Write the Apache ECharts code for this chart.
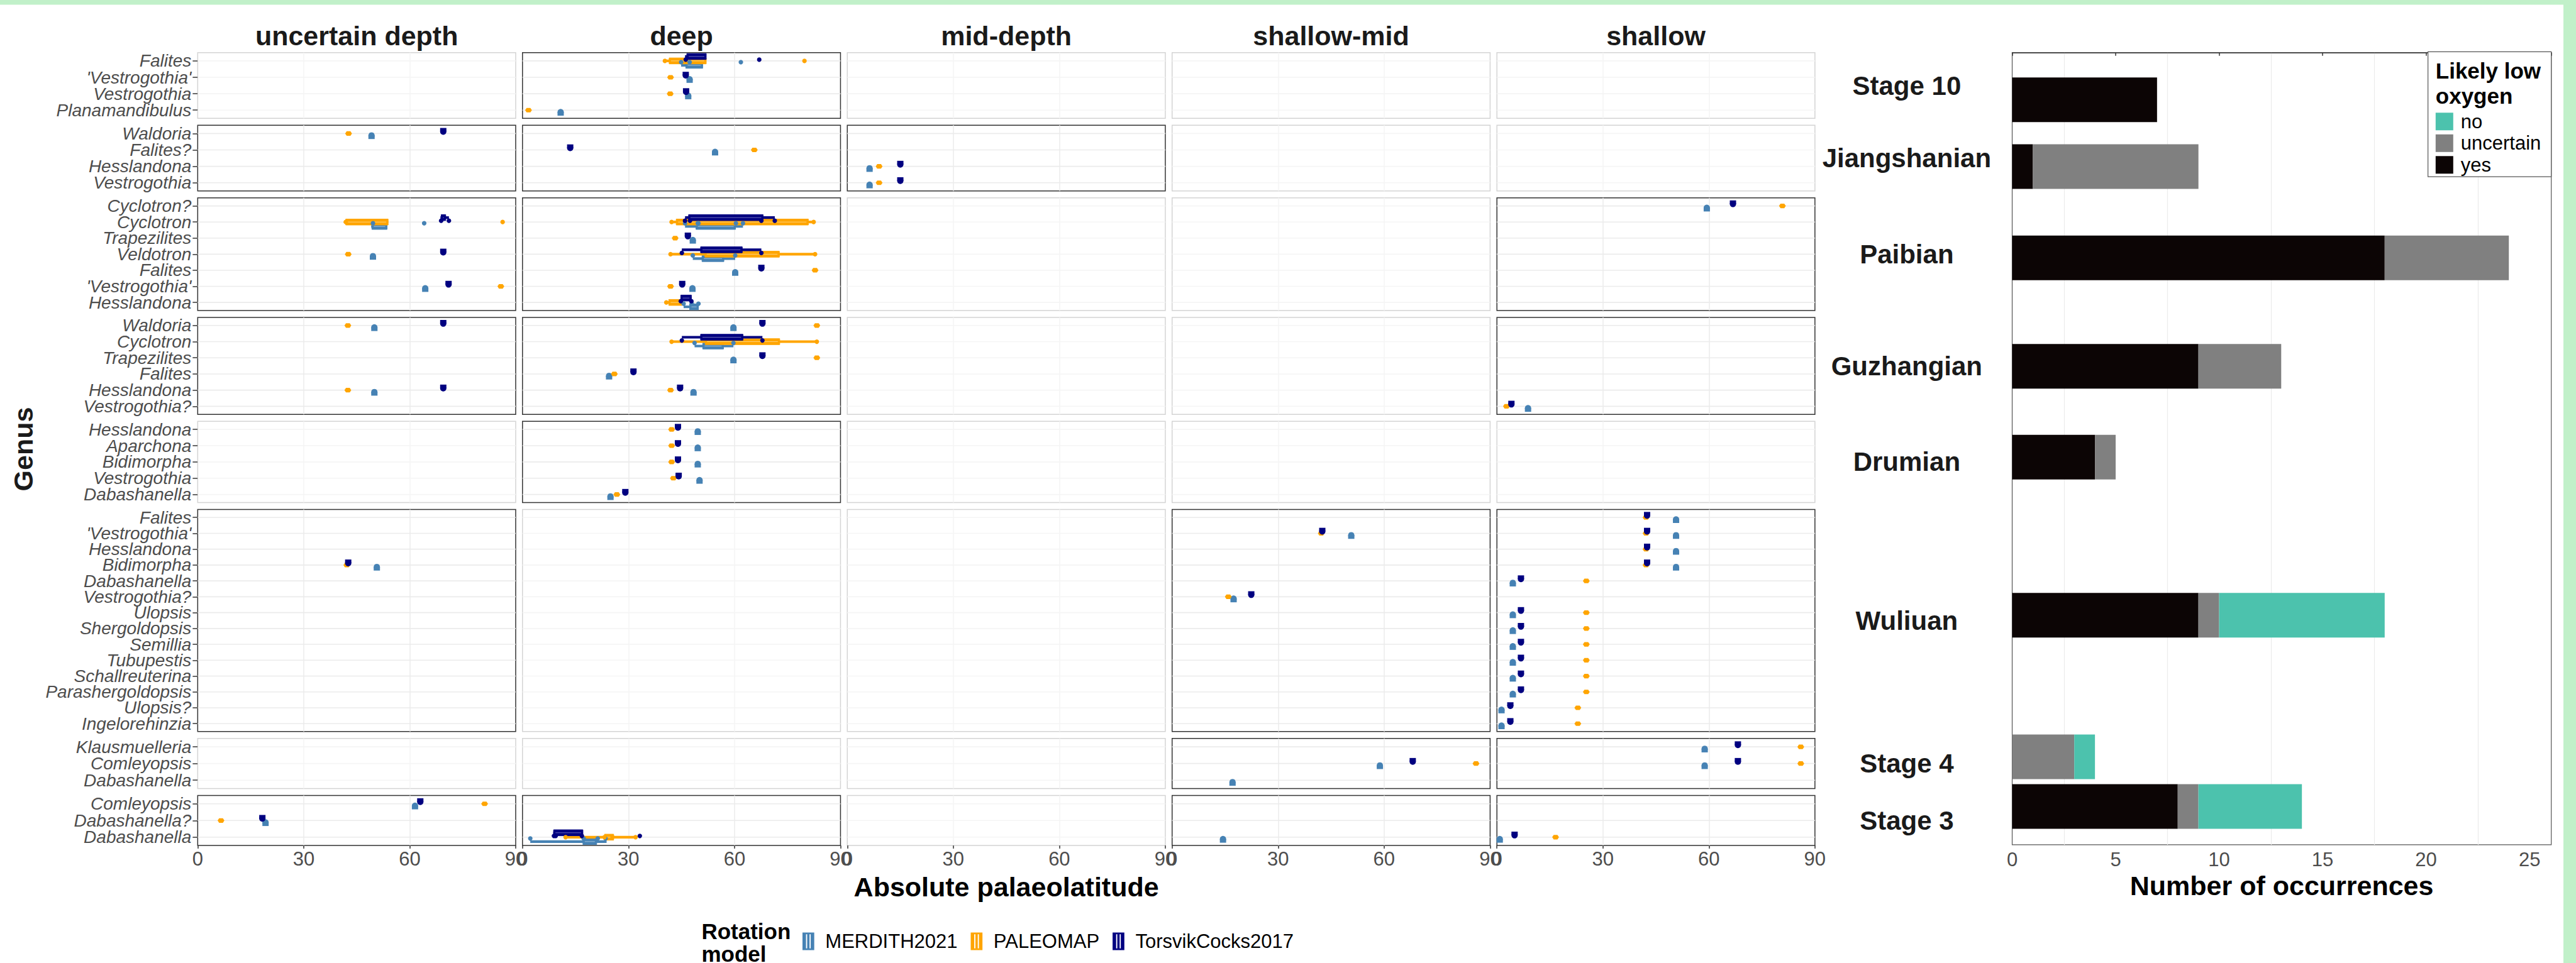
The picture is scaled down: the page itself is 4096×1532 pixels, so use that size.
<!DOCTYPE html>
<html><head><meta charset="utf-8">
<script src="https://cdn.jsdelivr.net/npm/echarts@6/dist/echarts.min.js"></script>
<style>html,body{margin:0;padding:0;background:#fff;overflow:hidden}#c{width:4096px;height:1532px}</style>
</head><body><div id="c"></div>
<script>
// ---------------- DATA ----------------
const stages = ['Stage 10','Jiangshanian','Paibian','Guzhangian','Drumian','Wuliuan','Stage 4','Stage 3'];
const depths = ['uncertain depth','deep','mid-depth','shallow-mid','shallow'];
const generaStage10 = ['Falites',"'Vestrogothia'",'Vestrogothia','Planamandibulus'];
const generaJiangshanian = ['Waldoria','Falites?','Hesslandona','Vestrogothia'];
const generaPaibian = ['Cyclotron?','Cyclotron','Trapezilites','Veldotron','Falites',"'Vestrogothia'",'Hesslandona'];
const generaGuzhangian = ['Waldoria','Cyclotron','Trapezilites','Falites','Hesslandona','Vestrogothia?'];
const generaDrumian = ['Hesslandona','Aparchona','Bidimorpha','Vestrogothia','Dabashanella'];
const generaWuliuan = ['Falites',"'Vestrogothia'",'Hesslandona','Bidimorpha','Dabashanella','Vestrogothia?','Ulopsis','Shergoldopsis','Semillia','Tubupestis','Schallreuterina','Parashergoldopsis','Ulopsis?','Ingelorehinzia'];
const generaStage4 = ['Klausmuelleria','Comleyopsis','Dabashanella'];
const generaStage3 = ['Comleyopsis','Dabashanella?','Dabashanella'];
const generaByStage = [generaStage10,generaJiangshanian,generaPaibian,generaGuzhangian,generaDrumian,generaWuliuan,generaStage4,generaStage3];

const models = ['MERDITH2021','PALEOMAP','TorsvikCocks2017'];
const modelColours = ['#4682B4','#FFA500','#000080'];
const modelTints = ['#9dbfdc','#ffd27f','#6a6ab8'];
const xTicks = [0,30,60,90];

// [stage, depth, genus, palaeolatitude | [lo,q1,median,q3,hi], extraPoints]
const merdith2021 = [
 ['Stage 10','deep','Falites',[44.9,46.2,48.5,51,51],[44.9,47.3,61.8]],
 ['Stage 10','deep',"'Vestrogothia'",47.3],
 ['Stage 10','deep','Vestrogothia',46.9],
 ['Stage 10','deep','Planamandibulus',10.8],
 ['Jiangshanian','uncertain depth','Waldoria',49.2],
 ['Jiangshanian','deep','Falites?',54.5],
 ['Jiangshanian','mid-depth','Hesslandona',6.3],
 ['Jiangshanian','mid-depth','Vestrogothia',6.3],
 ['Paibian','uncertain depth','Cyclotron',[49.1,49.3,51,53.6,53.6],[49.6,64.1]],
 ['Paibian','uncertain depth','Veldotron',49.6],
 ['Paibian','uncertain depth',"'Vestrogothia'",64.4],
 ['Paibian','deep','Cyclotron',[46,49.1,53,60.3,62.4],[46.0,49.6,49.8,60.4,62.4]],
 ['Paibian','deep','Trapezilites',48.2],
 ['Paibian','deep','Veldotron',[48.2,50.8,53,57.0,60.2],[48.2,60.2]],
 ['Paibian','deep','Falites',60.2],
 ['Paibian','deep',"'Vestrogothia'",48.1],
 ['Paibian','deep','Hesslandona',[45.6,47.3,48,49.8,49.8],[45.6,47.9,49.8]],
 ['Paibian','shallow','Cyclotron?',59.4],
 ['Guzhangian','uncertain depth','Waldoria',50.0],
 ['Guzhangian','uncertain depth','Hesslandona',50.0],
 ['Guzhangian','deep','Waldoria',59.7],
 ['Guzhangian','deep','Cyclotron',[48.7,51.0,54,56.9,59.7],[48.7,59.7]],
 ['Guzhangian','deep','Trapezilites',59.7],
 ['Guzhangian','deep','Falites',24.5],
 ['Guzhangian','deep','Hesslandona',48.4],
 ['Guzhangian','shallow','Vestrogothia?',8.8],
 ['Drumian','deep','Hesslandona',49.6],
 ['Drumian','deep','Aparchona',49.6],
 ['Drumian','deep','Bidimorpha',49.6],
 ['Drumian','deep','Vestrogothia',50.1],
 ['Drumian','deep','Dabashanella',24.9],
 ['Wuliuan','uncertain depth','Bidimorpha',50.7],
 ['Wuliuan','shallow-mid',"'Vestrogothia'",50.7],
 ['Wuliuan','shallow-mid','Vestrogothia?',17.4],
 ['Wuliuan','shallow','Falites',50.7],
 ['Wuliuan','shallow',"'Vestrogothia'",50.7],
 ['Wuliuan','shallow','Hesslandona',50.7],
 ['Wuliuan','shallow','Bidimorpha',50.7],
 ['Wuliuan','shallow','Dabashanella',4.5],
 ['Wuliuan','shallow','Ulopsis',4.5],
 ['Wuliuan','shallow','Shergoldopsis',4.5],
 ['Wuliuan','shallow','Semillia',4.5],
 ['Wuliuan','shallow','Tubupestis',4.5],
 ['Wuliuan','shallow','Schallreuterina',4.5],
 ['Wuliuan','shallow','Parashergoldopsis',4.5],
 ['Wuliuan','shallow','Ulopsis?',1.3],
 ['Wuliuan','shallow','Ingelorehinzia',1.3],
 ['Stage 4','shallow-mid','Comleyopsis',58.8],
 ['Stage 4','shallow-mid','Dabashanella',17.1],
 ['Stage 4','shallow','Klausmuelleria',58.8],
 ['Stage 4','shallow','Comleyopsis',58.8],
 ['Stage 3','uncertain depth','Comleyopsis',61.5],
 ['Stage 3','uncertain depth','Dabashanella?',19.2],
 ['Stage 3','deep','Dabashanella',[2.2,17.1,19,21,23.8],[2.2,17.3,21.3,23.5]],
 ['Stage 3','shallow-mid','Dabashanella',14.4],
 ['Stage 3','shallow','Dabashanella',0.8]
];
const paleomap = [
 ['Stage 10','deep','Falites',[40.3,41.5,46,52,52],[40.3,79.8]],
 ['Stage 10','deep',"'Vestrogothia'",41.9],
 ['Stage 10','deep','Vestrogothia',41.8],
 ['Stage 10','deep','Planamandibulus',1.7],
 ['Jiangshanian','uncertain depth','Waldoria',42.7],
 ['Jiangshanian','deep','Falites?',65.6],
 ['Jiangshanian','mid-depth','Hesslandona',9.0],
 ['Jiangshanian','mid-depth','Vestrogothia',9.0],
 ['Paibian','uncertain depth','Cyclotron',[41.9,41.9,47,53.9,53.9],[41.9,86.3]],
 ['Paibian','uncertain depth','Veldotron',42.6],
 ['Paibian','uncertain depth',"'Vestrogothia'",85.8],
 ['Paibian','deep','Cyclotron',[42.2,43.5,55,80.9,82.4],[42.2,82.4]],
 ['Paibian','deep','Trapezilites',43.2],
 ['Paibian','deep','Veldotron',[41.9,51.6,57,72.7,82.8],[41.9,82.8]],
 ['Paibian','deep','Falites',82.8],
 ['Paibian','deep',"'Vestrogothia'",41.9],
 ['Paibian','deep','Hesslandona',[40.7,41.4,43,45.2,45.2],[40.7]],
 ['Paibian','shallow','Cyclotron?',80.8],
 ['Guzhangian','uncertain depth','Waldoria',42.5],
 ['Guzhangian','uncertain depth','Hesslandona',42.5],
 ['Guzhangian','deep','Waldoria',83.3],
 ['Guzhangian','deep','Cyclotron',[42.2,51.7,57,72.8,83.3],[42.2,83.3]],
 ['Guzhangian','deep','Trapezilites',83.3],
 ['Guzhangian','deep','Falites',26.0],
 ['Guzhangian','deep','Hesslandona',41.9],
 ['Guzhangian','shallow','Vestrogothia?',2.7],
 ['Drumian','deep','Hesslandona',42.2],
 ['Drumian','deep','Aparchona',42.2],
 ['Drumian','deep','Bidimorpha',42.2],
 ['Drumian','deep','Vestrogothia',42.7],
 ['Drumian','deep','Dabashanella',26.7],
 ['Wuliuan','uncertain depth','Bidimorpha',42.2],
 ['Wuliuan','shallow-mid',"'Vestrogothia'",42.2],
 ['Wuliuan','shallow-mid','Vestrogothia?',15.9],
 ['Wuliuan','shallow','Falites',42.2],
 ['Wuliuan','shallow',"'Vestrogothia'",42.2],
 ['Wuliuan','shallow','Hesslandona',42.2],
 ['Wuliuan','shallow','Bidimorpha',42.2],
 ['Wuliuan','shallow','Dabashanella',25.3],
 ['Wuliuan','shallow','Ulopsis',25.3],
 ['Wuliuan','shallow','Shergoldopsis',25.3],
 ['Wuliuan','shallow','Semillia',25.3],
 ['Wuliuan','shallow','Tubupestis',25.3],
 ['Wuliuan','shallow','Schallreuterina',25.3],
 ['Wuliuan','shallow','Parashergoldopsis',25.3],
 ['Wuliuan','shallow','Ulopsis?',22.9],
 ['Wuliuan','shallow','Ingelorehinzia',22.9],
 ['Stage 4','shallow-mid','Comleyopsis',86.0],
 ['Stage 4','shallow','Klausmuelleria',86.0],
 ['Stage 4','shallow','Comleyopsis',86.0],
 ['Stage 3','uncertain depth','Comleyopsis',81.2],
 ['Stage 3','uncertain depth','Dabashanella?',6.6],
 ['Stage 3','deep','Dabashanella',[12.2,23.2,24.5,25.8,32.0],[12.2,23.2,25.5,32.0]],
 ['Stage 3','shallow','Dabashanella',16.6]
];
const torsvikCocks2017 = [
 ['Stage 10','deep','Falites',[46,46.5,49,52,52],[46.2,67.0]],
 ['Stage 10','deep',"'Vestrogothia'",46.2],
 ['Stage 10','deep','Vestrogothia',46.3],
 ['Jiangshanian','uncertain depth','Waldoria',69.5],
 ['Jiangshanian','deep','Falites?',13.5],
 ['Jiangshanian','mid-depth','Hesslandona',15.0],
 ['Jiangshanian','mid-depth','Vestrogothia',15.0],
 ['Paibian','uncertain depth','Cyclotron',[68.7,68.9,69.5,70.2,71.1],[68.9,71.1]],
 ['Paibian','uncertain depth','Veldotron',69.5],
 ['Paibian','uncertain depth',"'Vestrogothia'",71.0],
 ['Paibian','deep','Cyclotron',[46,47,55,68.1,71.4],[46.0,47.4,67.6,71.4]],
 ['Paibian','deep','Trapezilites',46.8],
 ['Paibian','deep','Veldotron',[45.1,50.4,56,62.2,67.6],[45.1,67.6]],
 ['Paibian','deep','Falites',67.6],
 ['Paibian','deep',"'Vestrogothia'",45.2],
 ['Paibian','deep','Hesslandona',[44.8,44.8,46,47.8,47.8],[44.8,47.8]],
 ['Paibian','shallow','Cyclotron?',66.8],
 ['Guzhangian','uncertain depth','Waldoria',69.5],
 ['Guzhangian','uncertain depth','Hesslandona',69.5],
 ['Guzhangian','deep','Waldoria',67.9],
 ['Guzhangian','deep','Cyclotron',[45.1,50.4,56,62.4,67.9],[45.1,67.9]],
 ['Guzhangian','deep','Trapezilites',67.9],
 ['Guzhangian','deep','Falites',31.4],
 ['Guzhangian','deep','Hesslandona',44.6],
 ['Guzhangian','shallow','Vestrogothia?',4.1],
 ['Drumian','deep','Hesslandona',44.0],
 ['Drumian','deep','Aparchona',44.0],
 ['Drumian','deep','Bidimorpha',44.0],
 ['Drumian','deep','Vestrogothia',44.2],
 ['Drumian','deep','Dabashanella',29.1],
 ['Wuliuan','uncertain depth','Bidimorpha',42.6],
 ['Wuliuan','shallow-mid',"'Vestrogothia'",42.5],
 ['Wuliuan','shallow-mid','Vestrogothia?',22.4],
 ['Wuliuan','shallow','Falites',42.5],
 ['Wuliuan','shallow',"'Vestrogothia'",42.5],
 ['Wuliuan','shallow','Hesslandona',42.5],
 ['Wuliuan','shallow','Bidimorpha',42.5],
 ['Wuliuan','shallow','Dabashanella',6.8],
 ['Wuliuan','shallow','Ulopsis',6.8],
 ['Wuliuan','shallow','Shergoldopsis',6.8],
 ['Wuliuan','shallow','Semillia',6.8],
 ['Wuliuan','shallow','Tubupestis',6.8],
 ['Wuliuan','shallow','Schallreuterina',6.8],
 ['Wuliuan','shallow','Parashergoldopsis',6.8],
 ['Wuliuan','shallow','Ulopsis?',3.8],
 ['Wuliuan','shallow','Ingelorehinzia',3.8],
 ['Stage 4','shallow-mid','Comleyopsis',68.1],
 ['Stage 4','shallow','Klausmuelleria',68.2],
 ['Stage 4','shallow','Comleyopsis',68.2],
 ['Stage 3','uncertain depth','Comleyopsis',63.0],
 ['Stage 3','uncertain depth','Dabashanella?',18.3],
 ['Stage 3','deep','Dabashanella',[8.7,8.8,12,17.1,17.1],[8.9,9.4,16.8,33.2]],
 ['Stage 3','shallow','Dabashanella',5.0]
];
const modelData = [merdith2021, paleomap, torsvikCocks2017];

// Bar chart: occurrences per stage by likely low oxygen
const oxygenClasses = ['no','uncertain','yes'];
const oxygenColours = {no:'#4cc2ad', uncertain:'#808080', yes:'#0c0505'};
const countYes = [7,1,18,9,4,9,0,8];
const countUncertain = [0,8,6,4,1,1,3,1];
const countNo = [0,0,0,0,0,8,1,5];
const barTrackPos = [5.95,14.38,25.91,39.59,51.07,71.03,88.89,95.17];
const barTicks = [0,5,10,15,20,25];

// ---------------- LAYOUT ----------------
const S = 0.676;
const FONT = "'Liberation Sans', Arial, Helvetica, sans-serif";
const L = {colLeft:465*S, colPitch:764*S, colW:748*S, top:124*S, cat:36.8*S, gap:16.3*S};
const BOX_OFF = 7, BOX_H = 9.5, WHISK = 4.2, PT_OFF = 2, PT_R = 3.6;
const dirs = [1, 0, -1];

const option = {animation:false, backgroundColor:'#ffffff', grid:[], xAxis:[], yAxis:[], series:[], legend:[], graphic:[]};
const rowCentres = [];

function glyph(x, gy, dir, col) {
  if (dir === 0) {
    return [{type:'polygon', shape:{points:[[x-5.4,gy],[x-3,gy-3.6],[x+3,gy-3.6],[x+5.4,gy],[x+3,gy+3.6],[x-3,gy+3.6]]}, style:{fill:col}}];
  }
  const yA = gy + dir*8.8, yB = gy + dir*3;
  return [
    {type:'rect', shape:{x:x-5, y:Math.min(yA,yB), width:10, height:Math.abs(yA-yB)}, style:{fill:col}},
    {type:'circle', shape:{cx:x, cy:yB, r:5}, style:{fill:col}}
  ];
}

function makeSeries(gi, mi, list, layer) {
  const col = modelColours[mi], dir = dirs[mi], tint = modelTints[mi];
  return {
    type:'custom', name:models[mi], xAxisIndex:gi, yAxisIndex:gi, z: layer==='box'?3:4,
    itemStyle:{color:col}, silent:true,
    data:list.map(e => [Array.isArray(e[3]) ? e[3][2] : e[3], e[5]]),
    renderItem:(p, api) => {
      const e = list[p.dataIndex];
      const g = api.value(1);
      const gy = api.coord([0, g])[1];
      const X = v => api.coord([v, g])[0];
      if (layer === 'box') {
        const [lo,q1,md,q3,hi] = e[3];
        const yc = gy + dir*BOX_OFF;
        return {type:'group', children:[
          {type:'line', shape:{x1:X(lo), y1:yc, x2:X(hi), y2:yc}, style:{stroke:col, lineWidth:WHISK}},
          {type:'rect', shape:{x:X(q1), y:yc-BOX_H/2, width:Math.max(X(q3)-X(q1),2), height:BOX_H}, style:{fill:col, stroke:col, lineWidth:1}},
          {type:'line', shape:{x1:X(q1)+3, y1:yc, x2:Math.max(X(q3)-3, X(q1)+3), y2:yc}, style:{stroke:tint, lineWidth:1}}
        ]};
      }
      if (Array.isArray(e[3])) {
        return {type:'group', children:(e[4]||[]).map(v => ({type:'circle', shape:{cx:X(v), cy:gy+dir*PT_OFF, r:PT_R}, style:{fill:col}}))};
      }
      return {type:'group', children:glyph(X(e[3]), gy, dir, col)};
    }
  };
}

let yCur = L.top;
generaByStage.forEach((gen, r) => {
  const h = (gen.length + 0.2) * L.cat;
  rowCentres.push(yCur + h/2);
  depths.forEach((dp, c) => {
    const gi = option.grid.length;
    const perModel = modelData.map(list => list.filter(e => e[0]===stages[r] && e[1]===dp)
      .map(e => { const a = e.slice(); a[5] = gen.indexOf(e[2]); if (a.length < 5) a[4] = null; return a; }));
    const has = perModel.some(a => a.length);
    option.grid.push({left:L.colLeft + c*L.colPitch, top:yCur, width:L.colW, height:h, show:true,
      borderColor: has ? '#333333' : '#d4d4d4', borderWidth:1.5, backgroundColor:'#ffffff'});
    const bottom = r === generaByStage.length-1;
    option.xAxis.push({gridIndex:gi, type:'value', min:xTicks[0], max:xTicks[xTicks.length-1], interval:30,
      axisLine:{show:false},
      axisTick:{show:bottom, length:5, lineStyle:{color:'#333333', width:1.5}},
      axisLabel:{show:bottom, fontSize:31, color:'#4d4d4d', margin:6, fontFamily:FONT},
      splitLine:{show:true, showMinLine:false, showMaxLine:false, lineStyle:{color: has ? '#ebebeb' : '#f5f5f5', width:1.5}}});
    option.yAxis.push({gridIndex:gi, type:'category', data:gen, inverse:true,
      axisLine:{show:false},
      axisTick:{show:c===0, alignWithLabel:true, length:8, lineStyle:{color:'#333333', width:1.5}},
      axisLabel:{show:c===0, fontSize:28, fontStyle:'italic', color:'#4d4d4d', margin:10, fontFamily:FONT, interval:0},
      splitLine:{show:false}});
    // horizontal category grid lines
    option.series.push({type:'custom', xAxisIndex:gi, yAxisIndex:gi, silent:true, z:1,
      data:gen.map((g,i) => [0,i]),
      renderItem:(p, api) => {
        const cs = p.coordSys, y = api.coord([0, api.value(1)])[1];
        return {type:'line', shape:{x1:cs.x, y1:y, x2:cs.x+cs.width, y2:y}, style:{stroke: has ? '#ebebeb' : '#f5f5f5', lineWidth:1.6}};
      }});
    perModel.forEach((list, mi) => {
      const boxes = list.filter(e => Array.isArray(e[3]));
      if (boxes.length) option.series.push(makeSeries(gi, mi, boxes, 'box'));
    });
    perModel.forEach((list, mi) => { if (list.length) option.series.push(makeSeries(gi, mi, list, 'pt')); });
  });
  yCur += h + L.gap;
});

// ---------- bar chart ----------
const barGi = option.grid.length;
option.grid.push({left:4733*S, top:124*S, width:1268*S, height:(1988-124)*S, show:true, borderColor:'#555555', borderWidth:1.2, backgroundColor:'#ffffff'});
option.xAxis.push({gridIndex:barGi, type:'value', min:barTicks[0], max:26.05, interval:5,
  axisLine:{show:true, lineStyle:{color:'#333333', width:1.5}},
  axisTick:{show:true, length:5, lineStyle:{color:'#333333', width:1.5}},
  axisLabel:{fontSize:31, color:'#4d4d4d', margin:8, fontFamily:FONT, formatter:v => (barTicks.indexOf(v) >= 0 ? String(v) : '')},
  splitLine:{show:false},
  minorTick:{show:false, splitNumber:2},
  minorSplitLine:{show:true, lineStyle:{color:'#ebebeb', width:1.2}}});
option.yAxis.push({gridIndex:barGi, type:'value', min:0, max:100, inverse:true,
  axisLine:{show:false}, axisTick:{show:false}, axisLabel:{show:false}, splitLine:{show:false}});
const BAR_H = 105*S;
function barSeries(name, startArr, countArr) {
  return {type:'custom', name, xAxisIndex:barGi, yAxisIndex:barGi, itemStyle:{color:oxygenColours[name]}, silent:true, z:3,
    data:stages.map((st,i) => [startArr[i], startArr[i]+countArr[i], barTrackPos[i]]),
    encode:{x:[0,1], y:2},
    renderItem:(p, api) => {
      const a = api.coord([api.value(0), api.value(2)]);
      const b = api.coord([api.value(1), api.value(2)]);
      if (b[0] - a[0] <= 0) return null;
      return {type:'rect', shape:{x:a[0], y:a[1]-BAR_H/2, width:b[0]-a[0], height:BAR_H}, style:{fill:oxygenColours[name]}};
    }};
}
const zeros = stages.map(() => 0);
const startUnc = countYes.slice();
const startNo = countYes.map((v,i) => v + countUncertain[i]);
option.series.push(barSeries('yes', zeros, countYes));
option.series.push(barSeries('uncertain', startUnc, countUncertain));
option.series.push(barSeries('no', startNo, countNo));

// ---------- legends ----------
const keyIcon = 'path://M0,0H20V30H0Z M6,3V27H8V3Z M12,3V27H14V3Z';
option.legend.push({data:models.map((m,i) => ({name:m, icon:keyIcon, itemStyle:{color:modelColours[i]}})),
  orient:'horizontal', left:1276, top:1482, itemWidth:20, itemHeight:28, itemGap:21, padding:0, selectedMode:false, z:6,
  textStyle:{fontSize:31, color:'#000000', fontFamily:FONT, lineHeight:28, padding:[0,0,0,12]}});
option.legend.push({data:oxygenClasses.map(n => ({name:n, icon:'rect', itemStyle:{color:oxygenColours[n]}})),
  orient:'vertical', left:5729*S, top:263*S, itemWidth:28, itemHeight:28, itemGap:3.5, padding:0, selectedMode:false, z:6,
  textStyle:{fontSize:31, color:'#000000', fontFamily:FONT, lineHeight:28, padding:[0,0,0,7]}});

// ---------- text & decorations ----------
function txt(text, x, y, size, opts) {
  return Object.assign({type:'text', x, y, z:7, style:{text, fontSize:size, fontWeight:'bold', fontFamily:FONT, fill:'#1a1a1a', textAlign:'center', textVerticalAlign:'middle', verticalAlign:'middle', align:'center'}}, opts||{});
}
depths.forEach((d, c) => option.graphic.push(txt(d, L.colLeft + c*L.colPitch + L.colW/2, 57, 43)));
option.graphic.push(Object.assign(txt('Genus', 36.5, (124*S + 1990*S)/2, 43), {rotation:Math.PI/2}));
option.graphic.push(txt('Absolute palaeolatitude', (465*S + 4269*S)/2, 1411, 43, {style:{text:'Absolute palaeolatitude', fontSize:43, fontWeight:'bold', fontFamily:FONT, fill:'#000000', textAlign:'center', align:'center', textVerticalAlign:'middle', verticalAlign:'middle'}}));
option.graphic.push(txt('Number of occurrences', (4733+6001)/2*S, 1409, 43, {style:{text:'Number of occurrences', fontSize:43, fontWeight:'bold', fontFamily:FONT, fill:'#000000', textAlign:'center', align:'center', textVerticalAlign:'middle', verticalAlign:'middle'}}));
stages.forEach((st, r) => option.graphic.push(txt(st, 4485*S, rowCentres[r], 42)));
const leftTxt = (t, x, y, size) => ({type:'text', x, y, z:7, style:{text:t, fontSize:size, fontWeight:'bold', fontFamily:FONT, fill:'#000000', textAlign:'left', align:'left', textVerticalAlign:'middle', verticalAlign:'middle'}});
option.graphic.push(leftTxt('Rotation', 1650*S, 2191*S, 35));
option.graphic.push(leftTxt('model', 1650*S, 2245*S, 35));
option.graphic.push({type:'rect', z:5, shape:{x:5711*S, y:122*S, width:290*S, height:294*S}, style:{fill:'#ffffff', stroke:'#555555', lineWidth:1.2}});
option.graphic.push(leftTxt('Likely low', 5729*S, 166*S, 35));
option.graphic.push(leftTxt('oxygen', 5729*S, 226*S, 35));
option.graphic.push({type:'rect', z:8, shape:{x:0, y:0, width:4096, height:7.4}, style:{fill:'#c1f0c9'}});
option.graphic.push({type:'rect', z:8, shape:{x:4076, y:0, width:20, height:1532}, style:{fill:'#c1f0c9'}});

const chart = echarts.init(document.getElementById('c'), null, {renderer:'svg', width:4096, height:1532});
chart.setOption(option);
</script>
</body></html>
